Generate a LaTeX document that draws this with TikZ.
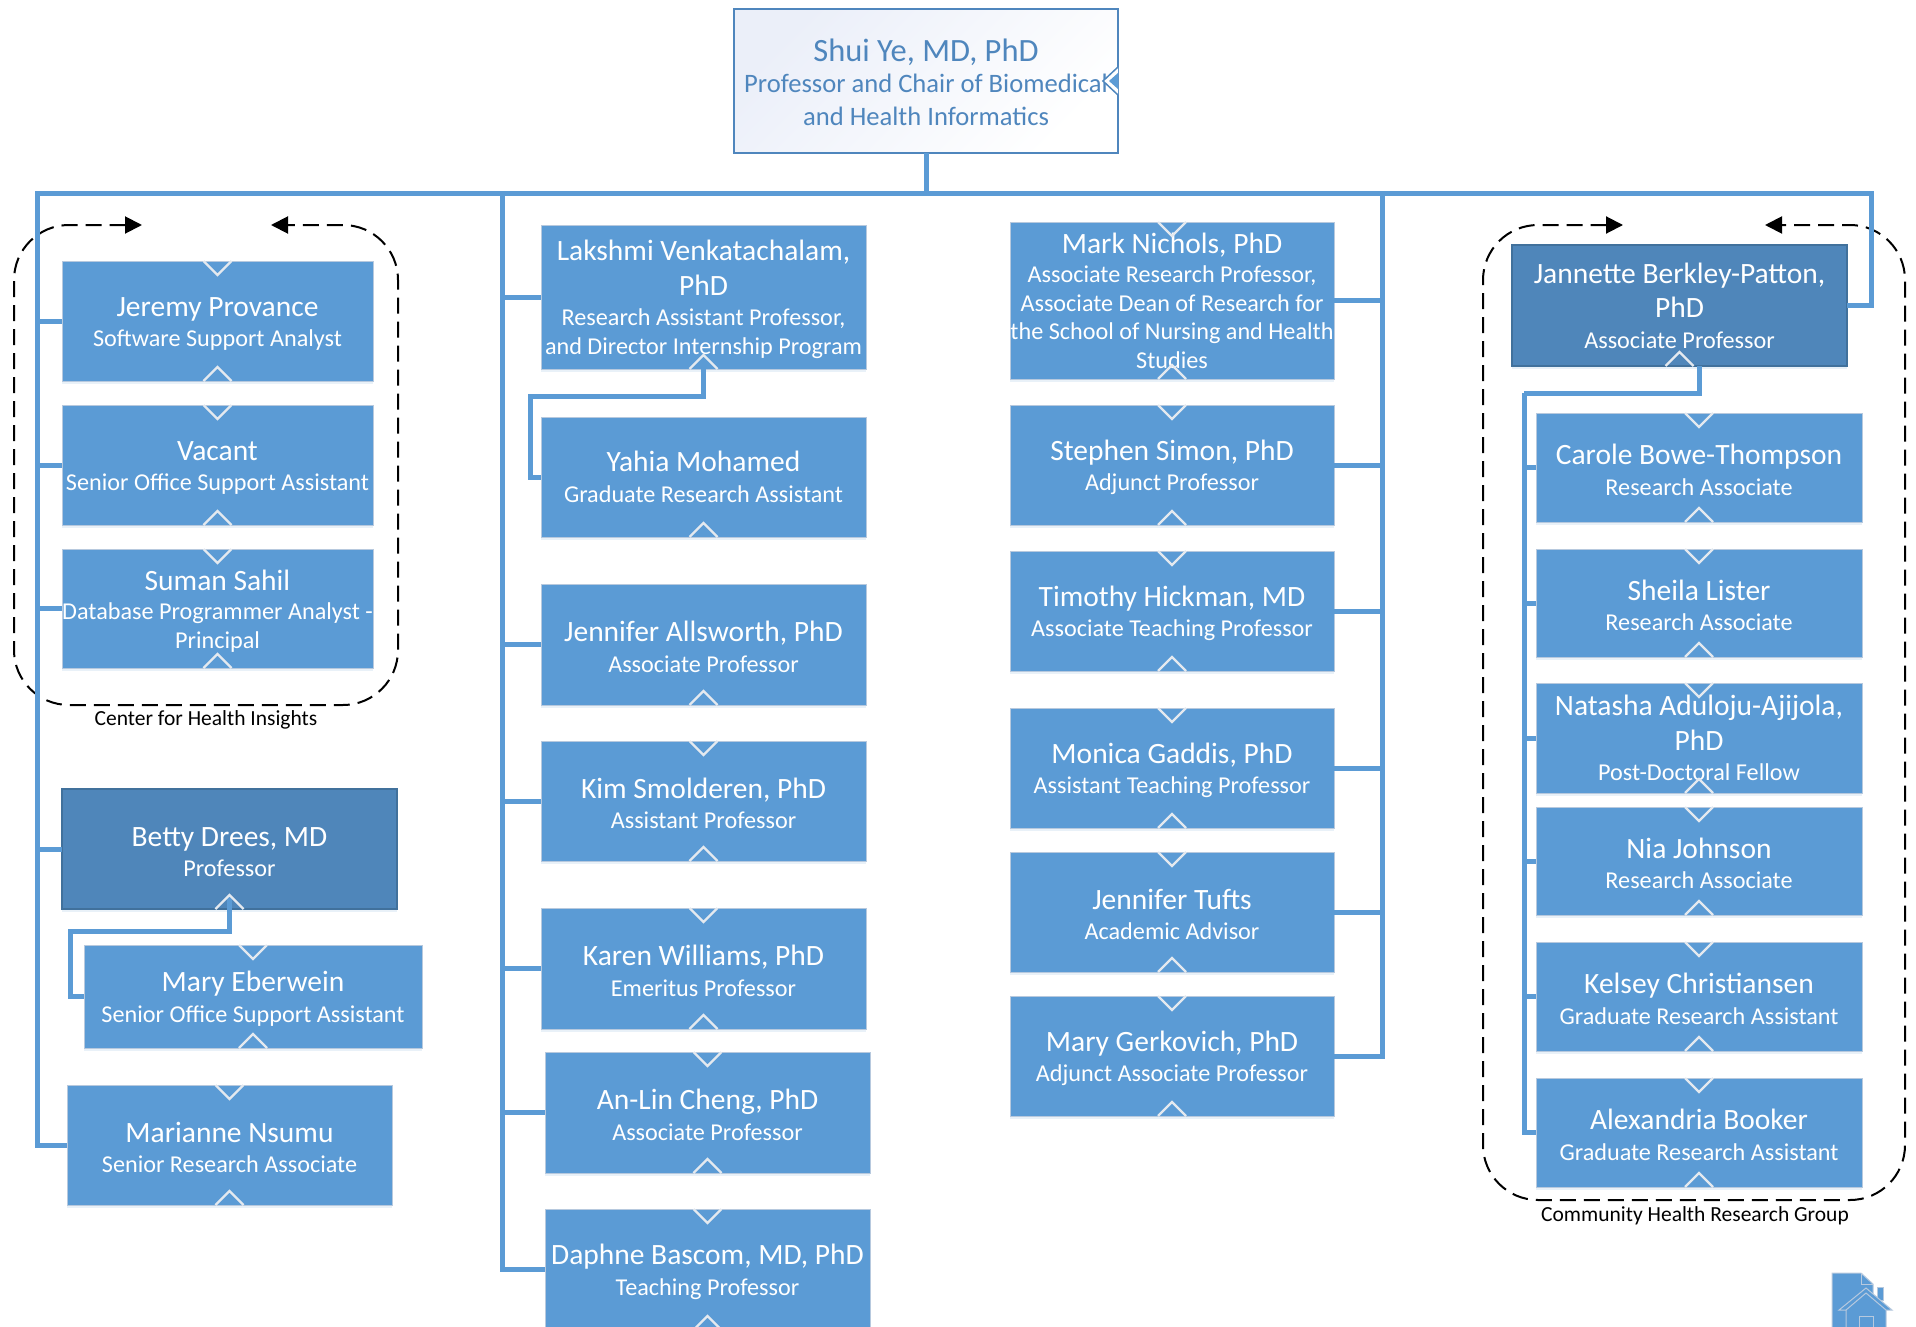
\documentclass[tikz,border=0pt]{standalone}
\usepackage{fontspec}
\setmainfont{Carlito}
\usetikzlibrary{arrows.meta,positioning,shadows}

\definecolor{unitblue}{HTML}{5B9BD5}
\definecolor{unitedge}{HTML}{B7C9DE}
\definecolor{leadblue}{HTML}{4F86BA}
\definecolor{leadedge}{HTML}{41719C}
\definecolor{chairink}{HTML}{4F86BD}
\definecolor{chairtint}{HTML}{EBEFF9}
\definecolor{haloblue}{HTML}{CFDFF0}
\definecolor{chevgray}{HTML}{E4E9EF}

\newcommand{\nm}[1]{{\fontsize{29.5}{34}\selectfont #1}}
\newcommand{\fn}[1]{\rule{0pt}{25pt}\nm{#1}}

\tikzset{
  unit/.style={rectangle,draw=unitedge,fill=unitblue,text=white,align=center,
    inner sep=0pt,outer sep=0pt,line width=1pt,
    font=\fontsize{24.2}{28.5}\selectfont,
    drop shadow={shadow xshift=0pt,shadow yshift=-3pt,fill=haloblue,opacity=.45}},
  lead/.style={unit,draw=leadedge,fill=leadblue,line width=1.5pt},
  orgline/.style={draw=unitblue,line width=5pt},
  chevron/.style={draw=chevgray,line width=2.2pt},
  grpline/.style={draw=black,line width=2pt,dash pattern=on 16pt off 8pt,rounded corners=55pt,
    {Triangle[length=17pt,width=17pt]}-{Triangle[length=17pt,width=17pt]}},
  grplabel/.style={text=black,font=\fontsize{21.5}{25}\selectfont},
  homepart/.style={draw=unitedge,line width=1pt}
}

\begin{document}
\begin{tikzpicture}[x=1pt,y=-1pt,node distance=24pt]
  \useasboundingbox (0,0) rectangle (1916,1327);
  \clip (0,0) rectangle (1916,1327);

  % dashed groups
  \draw[grpline] (142,225) -- (14,225) -- (14,705) -- (398,705) -- (398,225) -- (271,225);
  \draw[grpline] (1623,225) -- (1483,225) -- (1483,1200) -- (1905,1200) -- (1905,225) -- (1765,225);
  \node[grplabel] (chilabel) at (206,720) {Center for Health Insights};
  \node[grplabel] (chrglabel) at (1695,1216) {Community Health Research Group};

  % chair
  \node[rectangle,draw=chairink,line width=2pt,top color=chairtint,middle color=white,bottom color=white,
    shading angle=45,text=chairink,align=center,minimum width=384pt,minimum height=144pt,outer sep=0pt,
    inner sep=0pt,anchor=north west,font=\fontsize{26.6}{33}\selectfont] (chair) at (734,9)
    {{\fontsize{32.5}{36}\selectfont\rule{0pt}{25pt}Shui Ye, MD, PhD}\\[-1.5pt]Professor and Chair of Biomedical\\and Health Informatics};

  % left column
  \node[unit,minimum width=311pt,minimum height=120pt,anchor=north west] (jeremy) at (62,261)
    {\fn{Jeremy Provance}\\[2pt]Software Support Analyst};
  \node[unit,minimum width=311pt,minimum height=120pt,below=of jeremy] (vacant)
    {\fn{Vacant}\\[2pt]Senior Office Support Assistant};
  \node[unit,minimum width=311pt,minimum height=119pt,below=of vacant] (suman)
    {\fn{Suman Sahil}\\[1pt]Database Programmer Analyst -\\Principal};
  \node[lead,minimum width=335pt,minimum height=120pt,anchor=north west] (betty) at (62,789)
    {\fn{Betty Drees, MD}\\[2pt]Professor};
  \node[unit,minimum width=338pt,minimum height=103pt,anchor=north west] (maryE) at (84,945)
    {\fn{Mary Eberwein}\\[2pt]Senior Office Support Assistant};
  \node[unit,minimum width=325pt,minimum height=120pt,anchor=north west] (marianne) at (67,1085)
    {\fn{Marianne Nsumu}\\[2pt]Senior Research Associate};

  % second column
  \node[unit,minimum width=325pt,minimum height=144pt,anchor=north west] (lakshmi) at (541,225)
    {\fn{Lakshmi Venkatachalam,}\\[6pt]\nm{PhD}\\[2pt]Research Assistant Professor,\\and Director Internship Program};
  \node[unit,minimum width=325pt,minimum height=120pt,below=48pt of lakshmi] (yahia)
    {\nm{Yahia Mohamed}\\[2pt]Graduate Research Assistant};
  \node[unit,minimum width=325pt,minimum height=121pt,below=47pt of yahia] (allsworth)
    {\fn{Jennifer Allsworth, PhD}\\[2pt]Associate Professor};
  \node[unit,minimum width=325pt,minimum height=120pt,below=36pt of allsworth] (kim)
    {\fn{Kim Smolderen, PhD}\\[2pt]Assistant Professor};
  \node[unit,minimum width=325pt,minimum height=121pt,below=47pt of kim] (karen)
    {\fn{Karen Williams, PhD}\\[2pt]Emeritus Professor};
  \node[unit,minimum width=325pt,minimum height=121pt,anchor=north west] (anlin) at (545,1052)
    {\fn{An-Lin Cheng, PhD}\\[2pt]Associate Professor};
  \node[unit,minimum width=325pt,minimum height=121pt,below=36pt of anlin] (daphne)
    {\fn{Daphne Bascom, MD, PhD}\\[2pt]Teaching Professor};

  % third column
  \node[unit,minimum width=324pt,minimum height=157pt,anchor=north west] (mark) at (1010,222)
    {\nm{Mark Nichols, PhD}\\[1pt]Associate Research Professor,\\Associate Dean of Research for\\the School of Nursing and Health\\Studies};
  \node[unit,minimum width=324pt,minimum height=120pt,below=26pt of mark] (stephen)
    {\fn{Stephen Simon, PhD}\\[2pt]Adjunct Professor};
  \node[unit,minimum width=324pt,minimum height=120pt,below=26pt of stephen] (timothy)
    {\fn{Timothy Hickman, MD}\\[2pt]Associate Teaching Professor};
  \node[unit,minimum width=324pt,minimum height=120pt,below=37pt of timothy] (monica)
    {\fn{Monica Gaddis, PhD}\\[2pt]Assistant Teaching Professor};
  \node[unit,minimum width=324pt,minimum height=120pt,below=of monica] (tufts)
    {\fn{Jennifer Tufts}\\[2pt]Academic Advisor};
  \node[unit,minimum width=324pt,minimum height=120pt,below=of tufts] (gerkovich)
    {\fn{Mary Gerkovich, PhD}\\[2pt]Adjunct Associate Professor};

  % right column
  \node[lead,minimum width=335pt,minimum height=121pt,anchor=north west] (jannette) at (1512,245)
    {\nm{Jannette Berkley-Patton,}\\[6pt]\nm{PhD}\\[2pt]Associate Professor};
  \node[unit,minimum width=326pt,minimum height=109pt,anchor=north west] (carole) at (1536,413)
    {\fn{Carole Bowe-Thompson}\\[2pt]Research Associate};
  \node[unit,minimum width=326pt,minimum height=108pt,below=27pt of carole] (sheila)
    {\fn{Sheila Lister}\\[2pt]Research Associate};
  \node[unit,minimum width=326pt,minimum height=110pt,below=26pt of sheila] (natasha)
    {\nm{Natasha Aduloju-Ajijola,}\\[6pt]\nm{PhD}\\[2pt]Post-Doctoral Fellow};
  \node[unit,minimum width=326pt,minimum height=108pt,below=14pt of natasha] (nia)
    {\fn{Nia Johnson}\\[2pt]Research Associate};
  \node[unit,minimum width=326pt,minimum height=109pt,below=27pt of nia] (kelsey)
    {\fn{Kelsey Christiansen}\\[2pt]Graduate Research Assistant};
  \node[unit,minimum width=326pt,minimum height=109pt,below=27pt of kelsey] (alexandria)
    {\fn{Alexandria Booker}\\[2pt]Graduate Research Assistant};

  % connectors
  \coordinate (busT) at (926,193);
  \coordinate (busL) at (37,193);
  \coordinate (busM) at (502,193);
  \coordinate (busC) at (1382,193);
  \coordinate (busR) at (1871,193);
  \coordinate (elbowB) at (70,931);
  \coordinate (elbowY) at (530,396);
  \coordinate (elbowJ) at (1524,393);
  \draw[orgline] (chair) -- (busT);
  \draw[orgline] (marianne) -| (busL) -- (busR) |- (jannette);
  \foreach \who in {jeremy,vacant,suman,betty}
    \draw[orgline] (busL) |- (\who);
  \foreach \who in {lakshmi,allsworth,kim,karen,anlin,daphne}
    \draw[orgline] (busM) |- (\who);
  \foreach \who in {mark,stephen,timothy,monica,tufts,gerkovich}
    \draw[orgline] (busC) |- (\who);
  \draw[orgline] ([yshift=12pt]betty.south) |- (elbowB) |- (maryE);
  \draw[orgline] ([yshift=12pt]lakshmi.south) |- (elbowY) |- (yahia);
  \draw[orgline] (carole.north |- jannette.south) |- (elbowJ);
  \foreach \who in {carole,sheila,natasha,nia,kelsey,alexandria}
    \draw[orgline] (elbowJ) |- (\who);

  % chevrons
  \foreach \who in {jeremy,vacant,suman,maryE,marianne,kim,karen,anlin,daphne,mark,stephen,timothy,monica,tufts,gerkovich,carole,sheila,natasha,nia,kelsey,alexandria}
    \draw[chevron] ([xshift=-14pt]\who.north) -- ([yshift=-14pt]\who.north) -- ([xshift=14pt]\who.north);
  \foreach \who in {jeremy,vacant,suman,betty,maryE,marianne,lakshmi,yahia,allsworth,kim,karen,anlin,daphne,mark,stephen,timothy,monica,tufts,gerkovich,jannette,carole,sheila,natasha,nia,kelsey,alexandria}
    \draw[chevron] ([xshift=-14pt]\who.south) -- ([yshift=14pt]\who.south) -- ([xshift=14pt]\who.south);
  \fill[white] ([yshift=-14pt]chair.east) -- ([xshift=-15pt]chair.east) -- ([yshift=14pt]chair.east) -- cycle;
  \draw[chairink,line width=1.5pt] ([yshift=-14pt]chair.east) -- ([xshift=-15pt]chair.east) -- ([yshift=14pt]chair.east);
  \fill[unitblue] ([yshift=-8pt]chair.east) -- ([xshift=-9pt]chair.east) -- ([yshift=8pt]chair.east) -- cycle;

  % home icon
  \draw[homepart,fill=unitblue] (1832,1273) -- (1861,1273) -- (1873,1284) -- (1873,1330) -- (1832,1330) -- cycle;
  \draw[homepart] (1861,1273) -- (1861,1284) -- (1873,1284);
  \draw[homepart,fill=unitblue] (1877,1287) rectangle (1883,1300);
  \draw[homepart,fill=unitblue] (1846,1330) -- (1846,1310) -- (1839,1310) -- (1866,1288) -- (1892,1310) -- (1886,1310) -- (1886,1330) -- cycle;
  \draw[homepart] (1846,1310) -- (1866,1293) -- (1886,1310);
  \draw[homepart] (1859,1330) -- (1859,1316) -- (1873,1316) -- (1873,1330);
\end{tikzpicture}
\end{document}
